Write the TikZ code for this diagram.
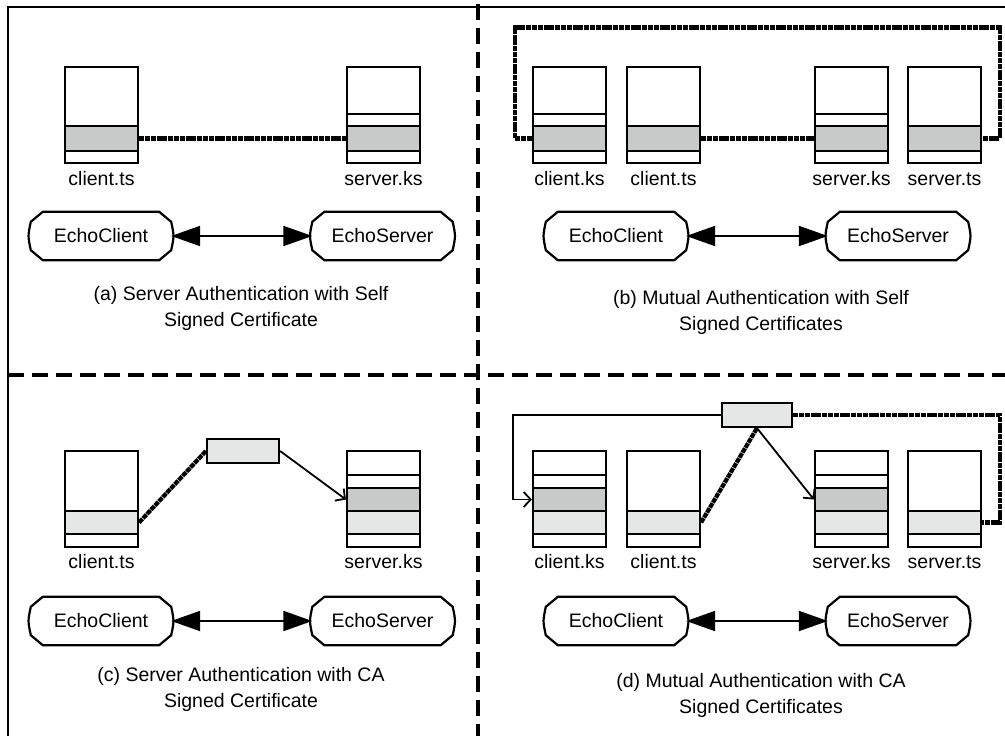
\documentclass[tikz,border=0pt]{standalone}
\usepackage{fontspec}
\setmainfont{Liberation Sans}
\usetikzlibrary{arrows.meta,calc}
\definecolor{dgray}{RGB}{200,201,201}
\definecolor{lgray}{RGB}{229,231,230}

\newcommand\ksA[4]{%
 \node[kbox] (#1) at (#2+36.5,#3+48) {};
 \node[band,fill=dgray,minimum height=25pt] (#1-d) at (#2+36.5,#3+71.5) {};
 \node[lbl] (#1-t) at (#2+36.5,#3+118) {#4};}
\newcommand\ksB[4]{%
 \node[kbox] (#1) at (#2+36.5,#3+48) {};
 \node[band,fill=white,minimum height=12pt] (#1-w) at (#2+36.5,#3+53) {};
 \node[band,fill=dgray,minimum height=25pt] (#1-d) at (#2+36.5,#3+71.5) {};
 \node[lbl] (#1-t) at (#2+36.5,#3+118) {#4};}
\newcommand\ksC[4]{%
 \node[kbox] (#1) at (#2+36.5,#3+48) {};
 \node[band,fill=lgray,minimum height=23pt] (#1-l) at (#2+36.5,#3+71.5) {};
 \node[lbl] (#1-t) at (#2+36.5,#3+117) {#4};}
\newcommand\ksD[4]{%
 \node[kbox] (#1) at (#2+36.5,#3+48) {};
 \node[band,fill=white,minimum height=13pt] (#1-w) at (#2+36.5,#3+30.5) {};
 \node[band,fill=dgray,minimum height=23pt] (#1-d) at (#2+36.5,#3+48.5) {};
 \node[band,fill=lgray,minimum height=23pt] (#1-l) at (#2+36.5,#3+71.5) {};
 \node[lbl] (#1-t) at (#2+36.5,#3+117) {#4};}
\newcommand\echonode[4]{%
 \node[echo] (#1) at (#2,#3) {#4};
 \draw[line width=2.2pt] ($(#1.north west)+(12,0)$) -- ($(#1.north east)+(-12,0)$) -- ($(#1.north east)+(0,10)$)
   .. controls ($(#1.east)+(3,0)$) .. ($(#1.south east)+(0,-10)$) -- ($(#1.south east)+(-12,0)$)
   -- ($(#1.south west)+(12,0)$) -- ($(#1.south west)+(0,-10)$)
   .. controls ($(#1.west)+(-3,0)$) .. ($(#1.north west)+(0,10)$) -- cycle;}

\begin{document}
\begin{tikzpicture}[x=1pt,y=-1pt,
  kbox/.style={draw, line width=2.2pt, minimum width=73pt, minimum height=96pt, inner sep=0pt, fill=white},
  band/.style={draw, line width=2.2pt, minimum width=73pt, inner sep=0pt},
  lbl/.style={font=\fontsize{19.5pt}{23pt}\selectfont, inner sep=0pt, anchor=base},
  echo/.style={minimum width=140pt, minimum height=48pt, inner sep=0pt, font=\fontsize{19.5pt}{23pt}\selectfont},
  captxt/.style={align=center, font=\fontsize{19.5pt}{26pt}\selectfont, inner sep=0pt},
  rope/.style={line width=4.2pt, dash pattern=on 5pt off 0.8pt},
  link/.style={line width=1.8pt, -{Straight Barb[length=7pt,width=15pt]}},
  bidir/.style={line width=2pt, {Triangle[length=29pt,width=20pt]}-{Triangle[length=29pt,width=20pt]}},
  frameline/.style={line width=2.2pt},
  divider/.style={line width=3.8pt, dash pattern=on 16pt off 8pt},
  cabox/.style={draw, fill=lgray, line width=2.2pt, minimum width=72pt, minimum height=24pt, inner sep=0pt}
]
\useasboundingbox (0,0) rectangle (1005,736);
\fill[white] (0,0) rectangle (1005,736);

% frame and dividers
\draw[frameline] (8,736) -- (8,7) -- (1005,7);
\draw[divider] (478,4) -- (478,736);
\draw[divider] (8,375) -- (1005,375);

% ---------- (a)
\ksA{act}{65}{67}{client.ts}
\ksB{ask}{347}{67}{server.ks}
\draw[rope] (act-d.east) -- (ask-d.west);
\echonode{aec}{101}{236}{EchoClient}
\echonode{aes}{382.5}{236}{EchoServer}
\draw[bidir] (aec.east) -- (aes.west);
\node[captxt] (capa) at (241,308) {(a) Server Authentication with Self\\Signed Certificate};

% ---------- (b)
\ksB{bck}{533}{67}{client.ks}
\ksA{bct}{627}{67}{client.ts}
\ksB{bsk}{815}{67}{server.ks}
\ksA{bst}{908}{67}{server.ts}
\draw[rope] (bct-d.east) -- (bsk-d.west);
\draw[rope] (bck-d.west) -- ++(-17,0) |- ($(bst-d.east)+(18,-111)$) |- (bst-d.east);
\echonode{bec}{616}{236}{EchoClient}
\echonode{bes}{898}{236}{EchoServer}
\draw[bidir] (bec.east) -- (bes.west);
\node[captxt] (capb) at (761,312) {(b) Mutual Authentication with Self\\Signed Certificates};

% ---------- (c)
\ksC{cct}{65}{451}{client.ts}
\ksD{csk}{347}{451}{server.ks}
\node[cabox] (cca) at (243,451) {};
\draw[rope] (cct-l.east) -- (cca.west);
\draw[link] (cca.east) -- (csk-d.west);
\echonode{cec}{101}{621}{EchoClient}
\echonode{ces}{382.5}{621}{EchoServer}
\draw[bidir] (cec.east) -- (ces.west);
\node[captxt] (capc) at (241,689) {(c) Server Authentication with CA\\Signed Certificate};

% ---------- (d)
\ksD{dck}{533}{451}{client.ks}
\ksC{dct}{627}{451}{client.ts}
\ksD{dsk}{815}{451}{server.ks}
\ksC{dst}{908}{451}{server.ts}
\node[cabox, minimum width=70pt] (dca) at (757,415) {};
\draw[link] (dca.west) -- ++(-208,0) |- (dck-d.west);
\draw[link] (dca.south) -- (dsk-d.west);
\draw[rope] (dct-l.east) -- (dca.south);
\draw[rope] (dca.east) -- ++(207,0) |- (dst-l.east);
\echonode{dec}{616}{621}{EchoClient}
\echonode{des}{898}{621}{EchoServer}
\draw[bidir] (dec.east) -- (des.west);
\node[captxt] (capd) at (761,695) {(d) Mutual Authentication with CA\\Signed Certificates};
\end{tikzpicture}
\end{document}
